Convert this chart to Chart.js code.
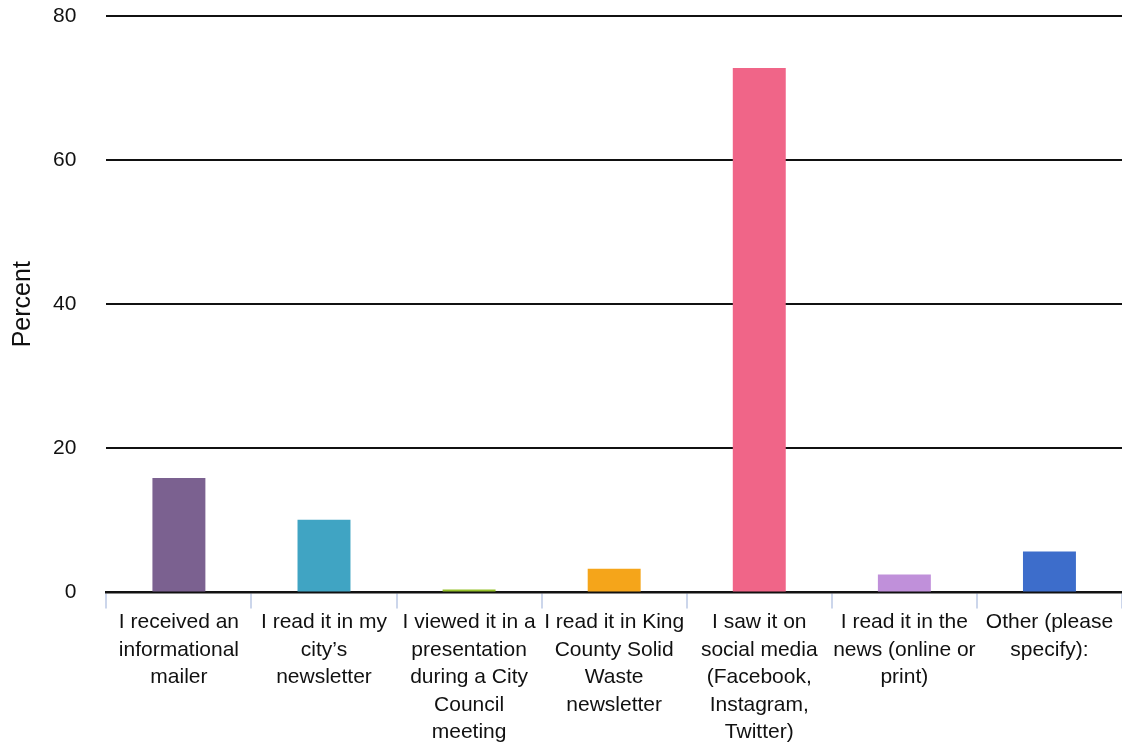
<!DOCTYPE html>
<html>
<head>
<meta charset="utf-8">
<script src="https://cdn.jsdelivr.net/npm/chart.js@4"></script>
<style>
html,body{margin:0;padding:0;background:#fff;}
#wrap{width:1122px;height:746px;position:relative;}
</style>
</head>
<body>
<div id="wrap"><canvas id="c"></canvas></div>
<script>
const categories = [
  ["I received an", "informational", "mailer"],
  ["I read it in my", "city\u2019s", "newsletter"],
  ["I viewed it in a", "presentation", "during a City", "Council", "meeting"],
  ["I read it in King", "County Solid", "Waste", "newsletter"],
  ["I saw it on", "social media", "(Facebook,", "Instagram,", "Twitter)"],
  ["I read it in the", "news (online or", "print)"],
  ["Other (please", "specify):"]
];
const percentValues = [15.9, 10.1, 0.4, 3.3, 72.8, 2.5, 5.7];
const barColors = ["#7b6190", "#40a4c3", "#96c12a", "#f5a51a", "#f06588", "#c090da", "#3d6dcb"];
const yTicks = [0, 20, 40, 60, 80];

Chart.defaults.font.family = "'Liberation Sans', Arial, Helvetica, sans-serif";
Chart.defaults.color = "#111";

new Chart(document.getElementById('c'), {
  type: 'bar',
  data: {
    labels: categories,
    datasets: [{
      data: percentValues,
      backgroundColor: barColors,
      borderWidth: 0,
      barPercentage: 0.365,
      categoryPercentage: 1.0
    }]
  },
  options: {
    responsive: true,
    maintainAspectRatio: false,
    animation: false,
    layout: { padding: { top: 16, right: 0, left: 0, bottom: 0 } },
    plugins: { legend: { display: false }, tooltip: { enabled: false } },
    scales: {
      x: {
        grid: {
          display: true,
          drawOnChartArea: false,
          drawTicks: true,
          tickLength: 16,
          color: "#ccd6eb",
          lineWidth: 2,
          offset: true
        },
        border: { display: true, color: "#111", width: 2.5 },
        ticks: {
          font: { size: 21, lineHeight: 1.31 },
          color: "#111",
          padding: 0,
          maxRotation: 0,
          minRotation: 0,
          autoSkip: false
        }
      },
      y: {
        min: 0,
        max: 80,
        afterBuildTicks: (axis) => { axis.ticks = yTicks.map(v => ({ value: v })); },
        grid: {
          color: "#111",
          lineWidth: 2,
          drawTicks: true,
          tickLength: 30,
          tickColor: "rgba(0,0,0,0)"
        },
        border: { display: false },
        ticks: {
          font: { size: 21 },
          color: "#111",
          padding: 0
        },
        title: {
          display: true,
          text: "Percent",
          font: { size: 25 },
          color: "#111",
          padding: { top: 8, bottom: 15 }
        }
      }
    }
  }
});
</script>
</body>
</html>
